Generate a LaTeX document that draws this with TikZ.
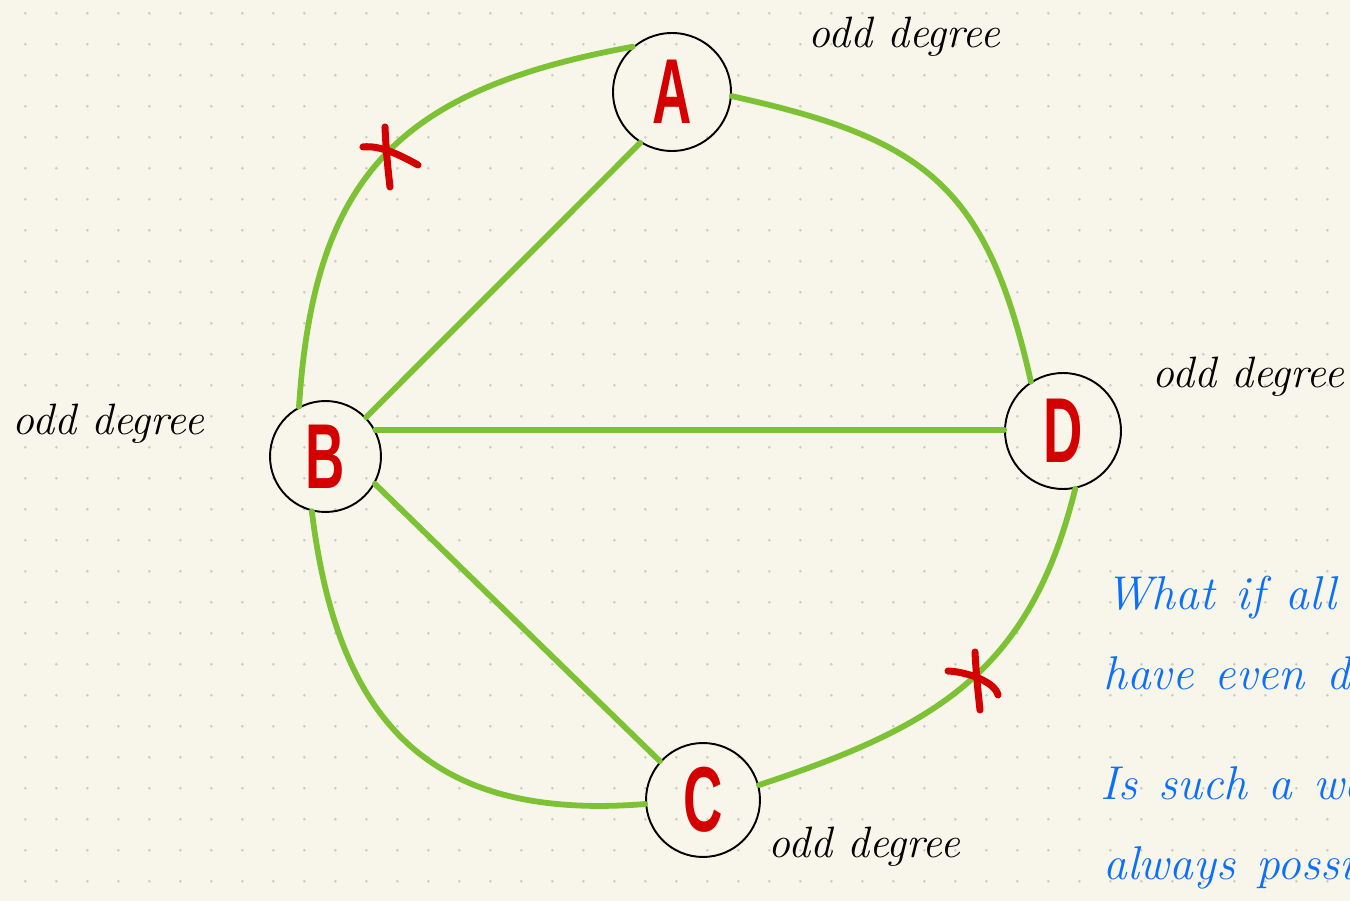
\documentclass[tikz,border=0pt]{standalone}
\usepackage{fontspec}
\newfontfamily\letterfont{Liberation Sans}
\definecolor{bgcol}{RGB}{248,246,235}
\definecolor{dotcol}{RGB}{205,204,198}
\definecolor{edgegreen}{RGB}{125,194,52}
\definecolor{nodered}{RGB}{212,0,0}
\definecolor{noteblue}{RGB}{12,112,250}
\newcommand{\vletter}[1]{\scalebox{0.62}[1.05]{\letterfont\bfseries\fontsize{50}{50}\selectfont #1}}
\newcommand{\bluefont}{\fontsize{27}{27}\selectfont\itshape\spaceskip=0.45em plus 0.1em\relax}
\begin{document}
\begin{tikzpicture}[x=0.02cm,y=-0.02cm,
  vert/.style={circle, draw=black, line width=1.1pt, inner sep=0pt, text=nodered},
  gedge/.style={draw=edgegreen, line width=3.3pt, line cap=round},
  cross/.style={draw=nodered, line width=4pt, line cap=round},
  note/.style={font=\fontsize{25}{25}\selectfont\itshape, anchor=base west, inner sep=0pt},
  bnote/.style={font=\bluefont, text=noteblue, anchor=base west, inner sep=0pt}]
\useasboundingbox (0,0) rectangle (1350,901);
\fill[bgcol] (0,0) rectangle (1350,901);
\clip (0,0) rectangle (1350,901);
\foreach \i in {0,...,42} \foreach \j in {0,...,28} \fill[dotcol] (25.3+31*\i, 13.3+31*\j) circle[radius=1.5];
% vertices
\node[vert, minimum size=2.36cm] (A) at (672,92) {\vletter{A}};
\node[vert, minimum size=2.22cm] (B) at (325.5,456.5) {\vletter{B}};
\node[vert, minimum size=2.28cm] (C) at (703,800) {\vletter{C}};
\node[vert, minimum size=2.32cm] (D) at (1063,431) {\vletter{D}};
% edges
\draw[gedge] (A.131) .. controls +(-235,43) and +(15,-230) .. (B.118);
\draw[gedge] (A.238) -- (B.44);
\draw[gedge] (B.28) -- (D.179);
\draw[gedge] (B.331) -- (C.138.5);
\draw[gedge] (B.256) .. controls +(26,213) and +(-214,17) .. (C.184.8);
\draw[gedge] (A.356) .. controls +(195,43) and +(-44,-195) .. (D.123.4);
\draw[gedge] (C.15.3) .. controls +(179,-59) and +(-45,182) .. (D.282);
% crosses
\draw[cross] (385,127) .. controls (386,150) and (388,170) .. (390,187);
\draw[cross] (363,147) .. controls (380,145) and (400,155) .. (418,165);
\draw[cross] (975,652) .. controls (976,672) and (978,692) .. (980,710);
\draw[cross] (948,671) .. controls (968,672) and (995,682) .. (998,695);
% labels
\node[note] (la) at (808,48) {odd degree};
\node[note] (lb) at (12,435) {odd degree};
\node[note] (ld) at (1152,388) {odd degree};
\node[note] (lc) at (768,858) {odd degree};
\node[bnote] (q1) at (1105,610) {What if all vertices};
\node[bnote] (q2) at (1103,690) {have even degree?};
\node[bnote] (q3) at (1100,800) {Is such a walk};
\node[bnote] (q4) at (1103,880) {always possible?};
\end{tikzpicture}
\end{document}
